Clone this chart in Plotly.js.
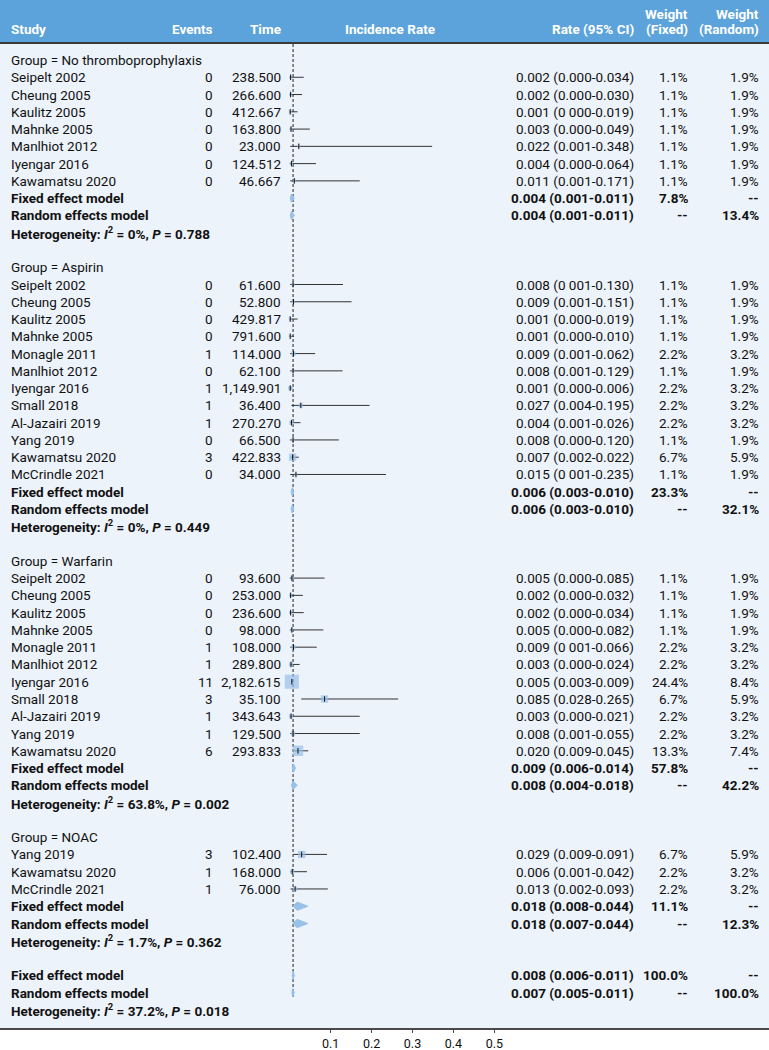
<!DOCTYPE html>
<html><head><meta charset="utf-8">
<script src="https://cdn.plot.ly/plotly-3.0.1.min.js"></script>
<style>html,body{margin:0;padding:0;background:#fff}#chart{width:769px;height:1050px}</style>
</head><body><div id="chart"></div>
<script>
// ---------------- DATA ----------------
const groupNames = ["No thromboprophylaxis", "Aspirin", "Warfarin", "NOAC"];

const study = [
  "Seipelt 2002","Cheung 2005","Kaulitz 2005","Mahnke 2005","Manlhiot 2012","Iyengar 2016","Kawamatsu 2020",
  "Seipelt 2002","Cheung 2005","Kaulitz 2005","Mahnke 2005","Monagle 2011","Manlhiot 2012","Iyengar 2016","Small 2018","Al-Jazairi 2019","Yang 2019","Kawamatsu 2020","McCrindle 2021",
  "Seipelt 2002","Cheung 2005","Kaulitz 2005","Mahnke 2005","Monagle 2011","Manlhiot 2012","Iyengar 2016","Small 2018","Al-Jazairi 2019","Yang 2019","Kawamatsu 2020",
  "Yang 2019","Kawamatsu 2020","McCrindle 2021"
];
const studyGroup = [0,0,0,0,0,0,0, 1,1,1,1,1,1,1,1,1,1,1,1, 2,2,2,2,2,2,2,2,2,2,2, 3,3,3];
const events = [0,0,0,0,0,0,0, 0,0,0,0,1,0,1,1,1,0,3,0, 0,0,0,0,1,1,11,3,1,1,6, 3,1,1];
const timeLabel = [
  "238.500","266.600","412.667","163.800","23.000","124.512","46.667",
  "61.600","52.800","429.817","791.600","114.000","62.100","1,149.901","36.400","270.270","66.500","422.833","34.000",
  "93.600","253.000","236.600","98.000","108.000","289.800","2,182.615","35.100","343.643","129.500","293.833",
  "102.400","168.000","76.000"
];
const rateLabel = [
  "0.002 (0.000-0.034)","0.002 (0.000-0.030)","0.001 (0 000-0.019)","0.003 (0.000-0.049)","0.022 (0.001-0.348)","0.004 (0.000-0.064)","0.011 (0.001-0.171)",
  "0.008 (0 001-0.130)","0.009 (0.001-0.151)","0.001 (0.000-0.019)","0.001 (0.000-0.010)","0.009 (0.001-0.062)","0.008 (0.001-0.129)","0.001 (0.000-0.006)","0.027 (0.004-0.195)","0.004 (0.001-0.026)","0.008 (0.000-0.120)","0.007 (0.002-0.022)","0.015 (0 001-0.235)",
  "0.005 (0.000-0.085)","0.002 (0.000-0.032)","0.002 (0.000-0.034)","0.005 (0.000-0.082)","0.009 (0 001-0.066)","0.003 (0.000-0.024)","0.005 (0.003-0.009)","0.085 (0.028-0.265)","0.003 (0.000-0.021)","0.008 (0.001-0.055)","0.020 (0.009-0.045)",
  "0.029 (0.009-0.091)","0.006 (0.001-0.042)","0.013 (0.002-0.093)"
];
// plotted estimates and CI ends (as drawn)
const est = [0.002,0.002,0.001,0.003,0.022,0.004,0.011, 0.008,0.009,0.001,0.001,0.009,0.008,0.001,0.027,0.004,0.008,0.007,0.015, 0.005,0.002,0.002,0.005,0.009,0.003,0.005,0.085,0.003,0.008,0.020, 0.029,0.006,0.013];
const ciLow = [0.000,0.000,0.000,0.000,0.001,0.000,0.001, 0.001,0.001,0.000,0.000,0.001,0.001,0.000,0.004,0.001,0.000,0.002,0.001, 0.000,0.000,0.000,0.000,0.001,0.000,0.003,0.028,0.000,0.001,0.009, 0.009,0.001,0.002];
const ciHigh = [0.034,0.030,0.019,0.049,0.348,0.064,0.171, 0.130,0.151,0.019,0.010,0.062,0.129,0.006,0.195,0.026,0.120,0.022,0.235, 0.085,0.032,0.034,0.082,0.066,0.024,0.009,0.265,0.171,0.171,0.045, 0.091,0.042,0.093];
const weightFixed = [1.1,1.1,1.1,1.1,1.1,1.1,1.1, 1.1,1.1,1.1,1.1,2.2,1.1,2.2,2.2,2.2,1.1,6.7,1.1, 1.1,1.1,1.1,1.1,2.2,2.2,24.4,6.7,2.2,2.2,13.3, 6.7,2.2,2.2];
const weightRandom = [1.9,1.9,1.9,1.9,1.9,1.9,1.9, 1.9,1.9,1.9,1.9,3.2,1.9,3.2,3.2,3.2,1.9,5.9,1.9, 1.9,1.9,1.9,1.9,3.2,3.2,8.4,5.9,3.2,3.2,7.4, 5.9,3.2,3.2];

// subgroup summaries
const fixedEst = [0.004, 0.006, 0.009, 0.018];
const fixedLow = [0.001, 0.003, 0.006, 0.008];
const fixedHigh = [0.011, 0.010, 0.014, 0.044];
const fixedWeight = [7.8, 23.3, 57.8, 11.1];
const randomEst = [0.004, 0.006, 0.008, 0.018];
const randomLow = [0.001, 0.003, 0.004, 0.007];
const randomHigh = [0.011, 0.010, 0.018, 0.044];
const randomWeight = [13.4, 32.1, 42.2, 12.3];
const hetI2 = ["0%", "0%", "63.8%", "1.7%"];
const hetP = ["0.788", "0.449", "0.002", "0.362"];

// overall
const overallFixed = [0.008, 0.006, 0.011];   // est, low, high
const overallRandom = [0.007, 0.005, 0.011];
const overallWeight = [100.0, 100.0];
const overallI2 = "37.2%";
const overallP = "0.018";

const xTicks = [0.1, 0.2, 0.3, 0.4, 0.5];
const xTickLabels = ["0.1", "0.2", "0.3", "0.4", "0.5"];

// ---------------- LAYOUT HELPERS ----------------
const W = 769, H = 1050;
const FONT = 'Roboto, "Noto Sans", sans-serif';
const TXT = '#111111';
const BOX = '#98C1E8';

const studyRow = [], groupRow = [], fixedRow = [], randomRow = [], hetRow = [];
let r = 0;
groupNames.forEach((g, gi) => {
  groupRow.push(r++);
  study.forEach((s, i) => { if (studyGroup[i] === gi) studyRow[i] = r++; });
  fixedRow.push(r++); randomRow.push(r++); hetRow.push(r++); r++;
});
const ovFixedRow = r++, ovRandomRow = r++, ovHetRow = r++;

const ann = [];
function txt(xpx, y, text, anchor, bold, color) {
  ann.push({xref: 'paper', yref: 'y', x: xpx / W, y: y, text: text, xanchor: anchor, yanchor: 'middle',
    showarrow: false, font: {family: FONT, size: 13.5, color: color || TXT, weight: bold ? 'bold' : 'normal'}});
}
const pct = v => v.toFixed(1) + '%';
const ci = (e, l, h) => e.toFixed(3) + ' (' + l.toFixed(3) + '-' + h.toFixed(3) + ')';
const het = (i2, p) => 'Heterogeneity: <i>I</i><sup>2</sup> = ' + i2 + ', <i>P</i> = ' + p;

const X = {study: 9, events: 215, time: 283, rate: 636, wf: 690, wr: 761};

// header
const hy1 = -1.78, hy0 = -2.66;
txt(X.study, hy1, 'Study', 'left', true, '#fff');
txt(X.events, hy1, 'Events', 'right', true, '#fff');
txt(X.time, hy1, 'Time', 'right', true, '#fff');
txt(390, hy1, 'Incidence Rate', 'center', true, '#fff');
txt(X.rate, hy1, 'Rate (95% CI)', 'right', true, '#fff');
txt(X.wf, hy0, 'Weight', 'right', true, '#fff');
txt(X.wf, hy1, '(Fixed)', 'right', true, '#fff');
txt(X.wr, hy0, 'Weight', 'right', true, '#fff');
txt(X.wr, hy1, '(Random)', 'right', true, '#fff');

// body text
groupNames.forEach((g, gi) => {
  txt(X.study, groupRow[gi], 'Group = ' + g, 'left', false);
  txt(X.study, fixedRow[gi], 'Fixed effect model', 'left', true);
  txt(X.study, randomRow[gi], 'Random effects model', 'left', true);
  txt(X.study, hetRow[gi], het(hetI2[gi], hetP[gi]), 'left', true);
  txt(X.rate, fixedRow[gi], ci(fixedEst[gi], fixedLow[gi], fixedHigh[gi]), 'right', true);
  txt(X.rate, randomRow[gi], ci(randomEst[gi], randomLow[gi], randomHigh[gi]), 'right', true);
  txt(X.wf, fixedRow[gi], pct(fixedWeight[gi]), 'right', true);
  txt(X.wr, fixedRow[gi], '--', 'right', true);
  txt(X.wf, randomRow[gi], '--', 'right', true);
  txt(X.wr, randomRow[gi], pct(randomWeight[gi]), 'right', true);
});
study.forEach((s, i) => {
  const y = studyRow[i];
  txt(X.study, y, s, 'left', false);
  txt(X.events, y, String(events[i]), 'right', false);
  txt(X.time, y, timeLabel[i], 'right', false);
  txt(X.rate, y, rateLabel[i], 'right', false);
  txt(X.wf, y, pct(weightFixed[i]), 'right', false);
  txt(X.wr, y, pct(weightRandom[i]), 'right', false);
});
txt(X.study, ovFixedRow, 'Fixed effect model', 'left', true);
txt(X.study, ovRandomRow, 'Random effects model', 'left', true);
txt(X.study, ovHetRow, het(overallI2, overallP), 'left', true);
txt(X.rate, ovFixedRow, ci(overallFixed[0], overallFixed[1], overallFixed[2]), 'right', true);
txt(X.rate, ovRandomRow, ci(overallRandom[0], overallRandom[1], overallRandom[2]), 'right', true);
txt(X.wf, ovFixedRow, pct(overallWeight[0]), 'right', true);
txt(X.wr, ovFixedRow, '--', 'right', true);
txt(X.wf, ovRandomRow, '--', 'right', true);
txt(X.wr, ovRandomRow, pct(overallWeight[1]), 'right', true);

// ---------------- TRACES ----------------
const traces = [];
const lx = [], ly = [];
study.forEach((s, i) => { lx.push(ciLow[i], ciHigh[i], null); ly.push(studyRow[i], studyRow[i], null); });
traces.push({type: 'scatter', mode: 'lines', x: lx, y: ly, line: {color: '#333', width: 1}, hoverinfo: 'skip'});
traces.push({type: 'scatter', mode: 'markers', x: est, y: studyRow,
  marker: {symbol: 'square', color: BOX, size: weightFixed.map(w => Math.sqrt(w) * 2.85), line: {width: 0}}, hoverinfo: 'skip'});
traces.push({type: 'scatter', mode: 'markers', x: est, y: studyRow,
  marker: {symbol: 'line-ns', size: 4, color: '#111', line: {color: '#111', width: 1}}, hoverinfo: 'skip'});

const DH = 0.24;
function diamond(e, l, h, y) {
  traces.push({type: 'scatter', mode: 'lines', x: [l, e, h, e, l], y: [y, y - DH, y, y + DH, y],
    fill: 'toself', fillcolor: BOX, line: {color: BOX, width: 1}, hoverinfo: 'skip'});
}
groupNames.forEach((g, gi) => {
  diamond(fixedEst[gi], fixedLow[gi], fixedHigh[gi], fixedRow[gi]);
  diamond(randomEst[gi], randomLow[gi], randomHigh[gi], randomRow[gi]);
});
diamond(overallFixed[0], overallFixed[1], overallFixed[2], ovFixedRow);
diamond(overallRandom[0], overallRandom[1], overallRandom[2], ovRandomRow);

// ---------------- AXES ----------------
const plotBottomPx = 1028, firstRowPx = 60, rowPx = 17.27;
const zeroPx = 289.8, pxPerUnit = 409;
const layout = {
  width: W, height: H,
  margin: {l: 0, r: 0, t: 0, b: H - plotBottomPx, pad: 0},
  paper_bgcolor: '#ffffff', plot_bgcolor: '#EDF3FB',
  showlegend: false,
  xaxis: {range: [-zeroPx / pxPerUnit, (W - zeroPx) / pxPerUnit], tickvals: xTicks, ticktext: xTickLabels,
    showgrid: false, zeroline: false, showline: true, linecolor: '#4a4a4a', linewidth: 2,
    ticks: 'outside', ticklen: 3, tickcolor: '#4a4a4a', tickwidth: 1, ticklabelstandoff: 0,
    tickfont: {family: FONT, size: 12.5, color: TXT}, fixedrange: true},
  yaxis: {range: [(plotBottomPx - firstRowPx) / rowPx, -firstRowPx / rowPx], visible: false,
    showgrid: false, zeroline: false, fixedrange: true},
  shapes: [
    {type: 'rect', xref: 'paper', yref: 'y', x0: 0, x1: 1, y0: -firstRowPx / rowPx, y1: (42 - firstRowPx) / rowPx,
      fillcolor: '#5CA3DB', line: {width: 0}, layer: 'below'},
    {type: 'line', xref: 'paper', yref: 'y', x0: 0, x1: 1, y0: (43 - firstRowPx) / rowPx, y1: (43 - firstRowPx) / rowPx,
      line: {color: '#3a3a3a', width: 2}, layer: 'above'},
    {type: 'line', xref: 'x', yref: 'y', x0: overallFixed[0], x1: overallFixed[0],
      y0: (44 - firstRowPx) / rowPx, y1: ovRandomRow + 0.3, line: {color: '#222', width: 1, dash: '3px,2px'}, layer: 'below'}
  ],
  annotations: ann
};

Plotly.newPlot('chart', traces, layout, {displayModeBar: false, staticPlot: true});
</script></body></html>
